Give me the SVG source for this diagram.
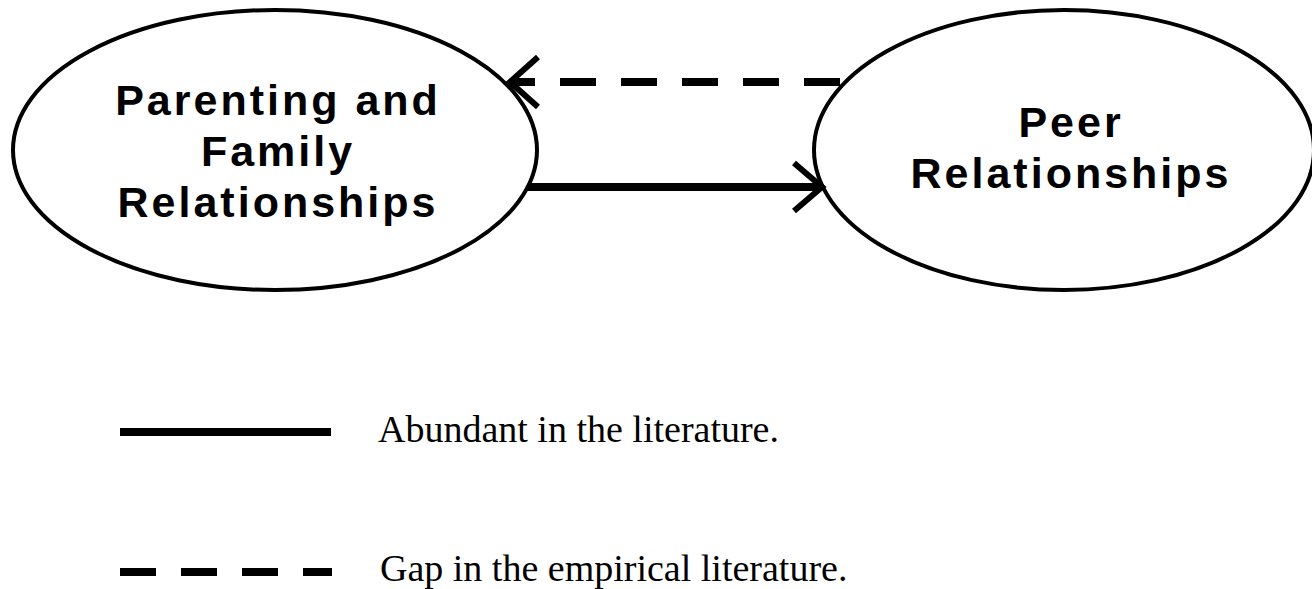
<svg xmlns="http://www.w3.org/2000/svg" width="1312" height="589" viewBox="0 0 1312 589">
<style>
.node{fill:#fff;stroke:#000;stroke-width:4}
.lbl{font-family:"Liberation Sans",Arial,sans-serif;font-weight:bold;font-size:43px;letter-spacing:3px;text-anchor:middle;fill:#000}
.leg{font-family:"Liberation Serif","Times New Roman",serif;font-size:38px;fill:#000}
.solid{stroke:#000;stroke-width:8;fill:none}
.dash{stroke:#000;stroke-width:8;fill:none;stroke-dasharray:36 25}
.head{stroke:#000;stroke-width:6;fill:none;stroke-linecap:butt}
</style>
<rect width="1312" height="589" fill="#fff"/>
<g id="parenting">
<ellipse class="node" cx="275" cy="150" rx="262" ry="140"/>
<text class="lbl" x="278" y="115">Parenting and</text>
<text class="lbl" x="278" y="166">Family</text>
<text class="lbl" x="278" y="217">Relationships</text>
</g>
<g id="peer">
<ellipse class="node" cx="1064" cy="150" rx="250" ry="140"/>
<text class="lbl" x="1071" y="137">Peer</text>
<text class="lbl" x="1071" y="188">Relationships</text>
</g>
<g id="connectors">
<line class="dash" x1="840" y1="82" x2="512" y2="82"/>
<polyline class="head" points="538,57 510,82 538,107"/>
<line class="solid" x1="528" y1="187" x2="820" y2="187"/>
<polyline class="head" points="794,163 822,187 794,211"/>
</g>
<g id="legend">
<line class="solid" x1="120" y1="432" x2="331" y2="432"/>
<text class="leg" x="378" y="442">Abundant in the literature.</text>
<line class="dash" x1="120" y1="572" x2="332" y2="572"/>
<text class="leg" x="380" y="581">Gap in the empirical literature.</text>
</g>
</svg>
